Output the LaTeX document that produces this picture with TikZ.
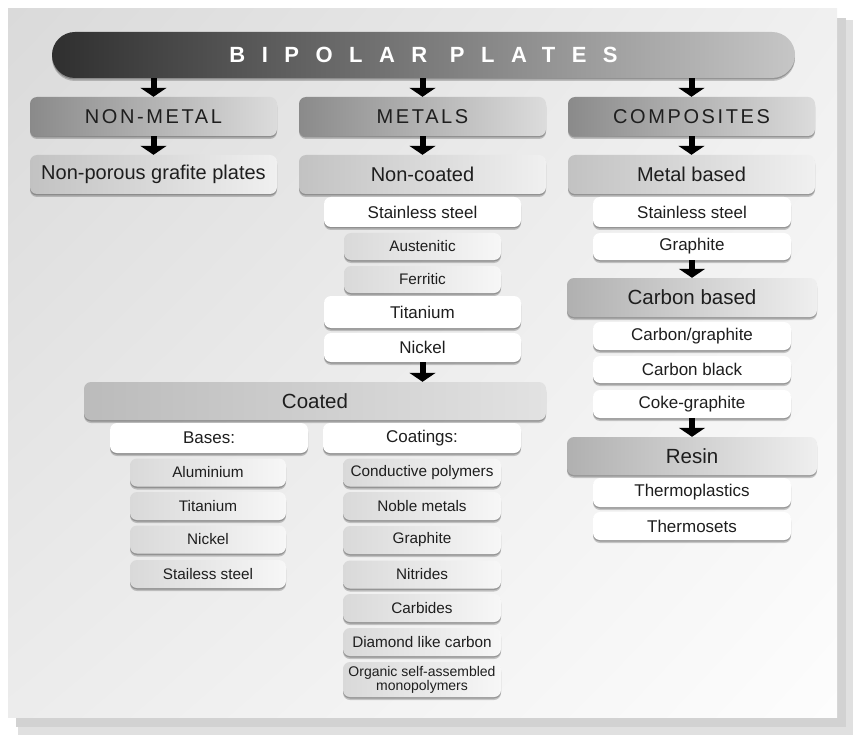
\documentclass[tikz,border=0pt]{standalone}
\usepackage{fontspec}
\setmainfont{Liberation Sans}
\usetikzlibrary{shadows,shadings,arrows.meta}
\definecolor{txt}{HTML}{1E1E1E}
\definecolor{bnl}{HTML}{2F2F2F}
\definecolor{bnr}{HTML}{C6C6C6}
\definecolor{c1l}{HTML}{8A8A8A}
\definecolor{c1r}{HTML}{DCDCDC}
\definecolor{c2l}{HTML}{C2C2C2}
\definecolor{c2r}{HTML}{F0F0F0}
\definecolor{c3l}{HTML}{B0B0B0}
\definecolor{c3r}{HTML}{EFEFEF}
\definecolor{ctl}{HTML}{BBBBBB}
\definecolor{ctr}{HTML}{E2E2E2}
\definecolor{lgl}{HTML}{D9D9D9}
\definecolor{lgr}{HTML}{F7F7F7}
\definecolor{pul}{HTML}{DADADA}
\definecolor{pur}{HTML}{F0F0F0}
\definecolor{pll}{HTML}{ECECEC}
\definecolor{plr}{HTML}{FDFDFD}
\definecolor{shd}{HTML}{D2D2D2}
\definecolor{shd2}{HTML}{E0E0E0}
\begin{document}
\begin{tikzpicture}[x=1pt,y=-1pt,
  box/.style={rectangle, rounded corners=7pt, inner sep=0pt, text=txt, align=center},
  sh/.style={drop shadow={shadow xshift=0pt, shadow yshift=-3pt, opacity=0.2, fill=black},
             drop shadow={shadow xshift=0pt, shadow yshift=-1.5pt, opacity=0.22, fill=black}},
  lvlone/.style={box, sh, minimum width=247pt, minimum height=39pt, left color=c1l, right color=c1r,
     font=\fontsize{20}{24}\selectfont\addfontfeature{LetterSpace=13}},
  lvltwo/.style={box, sh, minimum width=247pt, minimum height=39pt, left color=c2l, right color=c2r,
     font=\fontsize{20}{24}\selectfont},
  cbox/.style={box, sh, minimum width=250pt, minimum height=39pt, left color=c3l, right color=c3r,
     font=\fontsize{20.5}{24}\selectfont},
  wbox/.style={box, sh, fill=white, minimum width=197pt, minimum height=29pt,
     font=\fontsize{17}{20}\selectfont},
  lbox/.style={box, sh, left color=lgl, right color=lgr, minimum width=157pt, minimum height=28pt,
     font=\fontsize{15.3}{18}\selectfont},
  arr/.style={line width=6pt, black, -{Triangle[width=26pt,length=9pt]}}
]
\useasboundingbox (0,0) rectangle (853,735);
% panel with shadow
\fill[shd2] (18,20) rectangle (853,735);
\fill[shd] (16,18) rectangle (846,727);
\shade[upper left=pul, upper right=pur, lower left=pll, lower right=plr] (8,9) rectangle (837,717);

% banner
\node[box, sh, rounded corners=23pt, minimum width=743pt, minimum height=46pt,
      left color=bnl, right color=bnr, text=white,
      font=\fontsize{22}{26}\selectfont\bfseries\addfontfeature{LetterSpace=75}]
  (banner) at (423.5,55) {BIPOLAR PLATES};

% level 1
\node[lvlone] (nm)   at (153.5,116.5) {NON-METAL};
\node[lvlone] (met)  at (422.5,116.5) {METALS};
\node[lvlone] (comp) at (691.5,116.5) {COMPOSITES};

% level 2
\node[lvltwo] (npg) at (153.5,174.5) {Non-porous grafite plates};
\node[lvltwo] (nc)  at (422.5,174.5) {Non-coated};
\node[lvltwo] (mb)  at (691.5,174.5) {Metal based};

% metals, non-coated
\node[wbox, minimum height=30pt] (ss1) at (422.5,212) {Stainless steel};
\node[lbox, minimum height=27pt] (aus) at (422.5,246.5) {Austenitic};
\node[lbox, minimum height=27pt] (fer) at (422.5,279.5) {Ferritic};
\node[wbox, minimum height=32pt] (ti1) at (422.5,312) {Titanium};
\node[wbox, minimum height=29pt] (ni1) at (422.5,347.5) {Nickel};

% coated
\node[box, sh, minimum width=462pt, minimum height=38pt, left color=ctl, right color=ctr,
      font=\fontsize{20.5}{24}\selectfont] (coat) at (315,401) {Coated};
\node[wbox, minimum width=198pt, minimum height=30pt] (bases) at (209,438) {Bases:};
\node[wbox, minimum width=198pt, minimum height=30pt] (coatings) at (422,438) {Coatings:};

\node[lbox, minimum width=156pt] (al)  at (208,472.5) {Aluminium};
\node[lbox, minimum width=156pt] (ti2) at (208,506) {Titanium};
\node[lbox, minimum width=156pt] (ni2) at (208,539.5) {Nickel};
\node[lbox, minimum width=156pt] (ss2) at (208,574) {Stailess steel};

\node[lbox, minimum width=158pt] (cp)   at (422,472.5) {Conductive polymers};
\node[lbox, minimum width=158pt] (nmet) at (422,506) {Noble metals};
\node[lbox, minimum width=158pt] (gr2)  at (422,540) {Graphite};
\node[lbox, minimum width=158pt] (nit)  at (422,574.5) {Nitrides};
\node[lbox, minimum width=158pt] (carb) at (422,608) {Carbides};
\node[lbox, minimum width=158pt] (dlc)  at (422,642) {Diamond like carbon};
\node[lbox, minimum width=158pt, minimum height=35pt, font=\fontsize{14}{12}\selectfont]
  (org) at (422,679.5) {Organic self-assembled\\monopolymers};

% composites
\node[wbox, minimum width=198pt, minimum height=30pt] (ss3) at (692,212) {Stainless steel};
\node[wbox, minimum width=198pt, minimum height=27pt] (gr3) at (692,246.5) {Graphite};
\node[cbox] (cbased) at (692,297.5) {Carbon based};
\node[wbox, minimum width=198pt, minimum height=28pt] (cg)     at (692,336) {Carbon/graphite};
\node[wbox, minimum width=198pt, minimum height=27pt] (cblack) at (692,369.5) {Carbon black};
\node[wbox, minimum width=198pt, minimum height=28pt] (coke)   at (692,404) {Coke-graphite};
\node[cbox, minimum height=38pt] (resin) at (692,456) {Resin};
\node[wbox, minimum width=198pt, minimum height=29pt] (tp) at (692,492.5) {Thermoplastics};
\node[wbox, minimum width=198pt, minimum height=28pt] (ts) at (692,526) {Thermosets};

% arrows
\draw[arr] (banner.south -| nm.north) -- (nm.north);
\draw[arr] (banner.south -| met.north) -- (met.north);
\draw[arr] (banner.south -| comp.north) -- (comp.north);
\draw[arr] (nm.south) -- (npg.north);
\draw[arr] (met.south) -- (nc.north);
\draw[arr] (comp.south) -- (mb.north);
\draw[arr] (ni1.south) -- (ni1.south |- coat.north);
\draw[arr] (gr3.south) -- (cbased.north);
\draw[arr] (coke.south) -- (resin.north);
\end{tikzpicture}
\end{document}
